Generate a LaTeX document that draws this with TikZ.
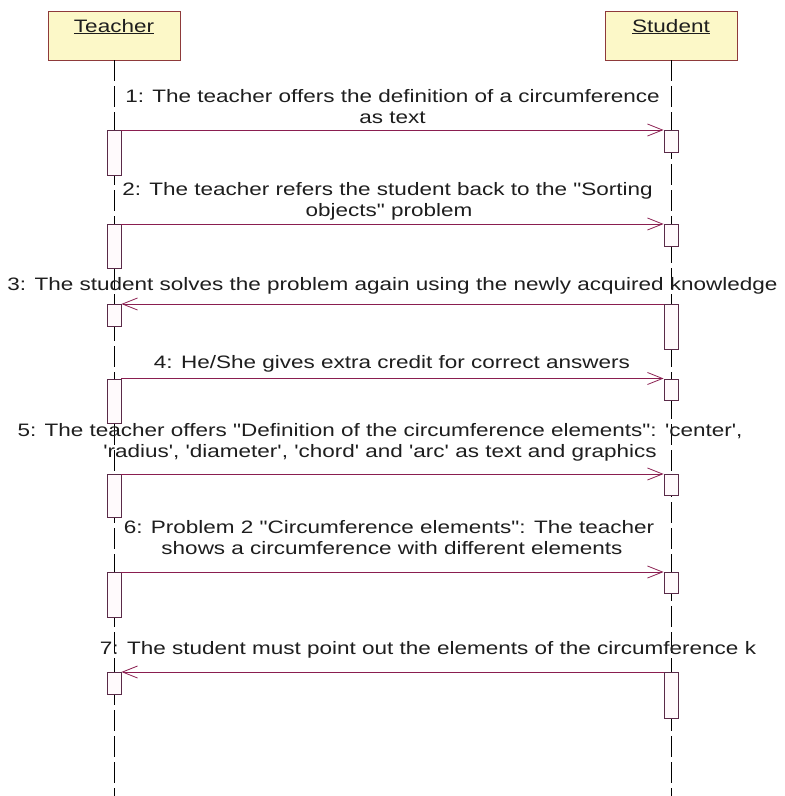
\documentclass[tikz,border=0pt]{standalone}
\usepackage{fontspec}
\usetikzlibrary{arrows.meta}
\newfontfamily\umlfont[FakeStretch=1.25]{Liberation Sans}
\definecolor{actorfill}{HTML}{FCF8C8}
\definecolor{actorline}{HTML}{8E3A3A}
\definecolor{msgline}{HTML}{8A1E50}
\definecolor{actline}{HTML}{5A2A48}
\definecolor{actfill}{HTML}{FFFAFC}
\definecolor{txt}{HTML}{1E1E1E}
\tikzset{
  actor/.style={draw=actorline, fill=actorfill, line width=0.9pt,
    minimum width=132pt, minimum height=49pt, inner sep=0pt},
  lifeline/.style={draw=black, line width=0.9pt, dash pattern=on 21pt off 5pt},
  act/.style={draw=actline, fill=actfill, line width=0.9pt,
    minimum width=14pt, inner sep=0pt, anchor=north},
  msgarrow/.style={draw=msgline, line width=0.9pt,
    -{Straight Barb[length=15pt,width=12pt,line width=0.8pt]}},
  msg/.style={text=txt, anchor=base, inner sep=0pt,
    font=\umlfont\fontsize{18}{21.5}\selectfont},
}
\begin{document}
\begin{tikzpicture}[x=1pt,y=-1pt]
\useasboundingbox[fill=white] (0,0) rectangle (785,796);

% actors
\node[actor] (teacher) at (114,35.5) {};
\node[actor] (student) at (671,35.5) {};
\node[msg] (teachername) at (114,32) {\underline{Teacher}};
\node[msg] (studentname) at (671,32) {\underline{Student}};

% lifelines
\coordinate (tend) at (114,796);
\coordinate (send) at (671,796);
\draw[lifeline] (teacher.south) -- (tend);
\draw[lifeline] (student.south) -- (send);

% activation bars on the teacher lifeline
\node[act, minimum height=45pt] (a1) at (114,130) {};
\node[act, minimum height=44pt] (a2) at (114,224) {};
\node[act, minimum height=22pt] (a3) at (114,304) {};
\node[act, minimum height=44pt] (a4) at (114,378.5) {};
\node[act, minimum height=43pt] (a5) at (114,474) {};
\node[act, minimum height=45pt] (a6) at (114,572) {};
\node[act, minimum height=22pt] (a7) at (114,672) {};

% activation bars on the student lifeline
\node[act, minimum height=22pt] (b1) at (671,130) {};
\node[act, minimum height=21.5pt] (b2) at (671,224) {};
\node[act, minimum height=45pt] (b3) at (671,304) {};
\node[act, minimum height=21pt] (b4) at (671,378.5) {};
\node[act, minimum height=21pt] (b5) at (671,474) {};
\node[act, minimum height=21pt] (b6) at (671,572) {};
\node[act, minimum height=46pt] (b7) at (671,672) {};

% messages
\draw[msgarrow] (a1.north east) -- (b1.north west);
\draw[msgarrow] (a2.north east) -- (b2.north west);
\draw[msgarrow] (b3.north west) -- (a3.north east);
\draw[msgarrow] (a4.north east) -- (b4.north west);
\draw[msgarrow] (a5.north east) -- (b5.north west);
\draw[msgarrow] (a6.north east) -- (b6.north west);
\draw[msgarrow] (b7.north west) -- (a7.north east);

% message labels
\node[msg] (m1a) at (392.5,102) {1: The teacher offers the definition of a circumference};
\node[msg] (m1b) at (392.5,123) {as text};
\node[msg] (m2a) at (387.5,195) {2: The teacher refers the student back to the "Sorting};
\node[msg] (m2b) at (389,216) {objects" problem};
\node[msg] (m3) at (392.5,290.5) {3: The student solves the problem again using the newly acquired knowledge};
\node[msg] (m4) at (392,368) {4: He/She gives extra credit for correct answers};
\node[msg] (m5a) at (380,436.5) {5: The teacher offers "Definition of the circumference elements": 'center',};
\node[msg] (m5b) at (380,457) {'radius', 'diameter', 'chord' and 'arc' as text and graphics};
\node[msg] (m6a) at (389,533) {6: Problem 2 "Circumference elements": The teacher};
\node[msg] (m6b) at (392,554) {shows a circumference with different elements};
\node[msg] (m7) at (428,654) {7: The student must point out the elements of the circumference k};
\end{tikzpicture}
\end{document}
